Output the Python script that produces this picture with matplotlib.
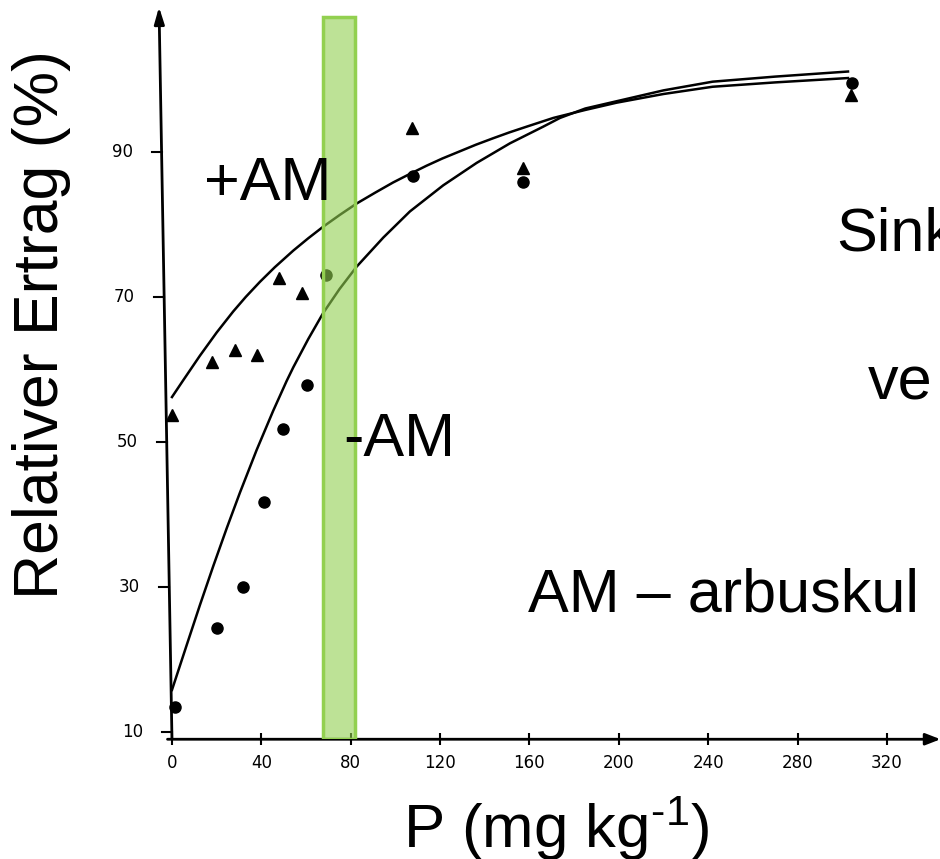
import matplotlib
matplotlib.use("Agg")
import matplotlib.pyplot as plt

plt.rcParams['font.family'] = ['Liberation Sans', 'DejaVu Sans']
plt.rcParams['mathtext.default'] = 'regular'

# ---- data ----
p_plus = [0, 18, 28, 38, 48, 58, 107.5, 157, 304]
y_plus = [53.7, 61.0, 62.7, 62.0, 72.6, 70.5, 93.3, 87.8, 97.9]

p_minus = [1.3, 20, 31.6, 41, 49.6, 60.4, 69, 108, 157, 304.5]
y_minus = [13.4, 24.3, 30.0, 41.7, 51.8, 57.9, 73.0, 86.7, 85.9, 99.5]

curve_plus_x = [0, 5, 12.5, 20, 27.4, 33, 39.4, 46, 54.3, 61, 67.7, 75, 82.7, 91, 99, 106,
                113.9, 121, 128.9, 136, 143.8, 151, 158.8, 170.7, 185, 199, 220, 242, 270, 302.6]
curve_plus_y = [56.2, 58.5, 61.9, 65.1, 68.0, 70.0, 72.1, 74.1, 76.4, 78.1, 79.7, 81.3, 82.9, 84.4, 85.8, 86.9,
                88.1, 89.1, 90.1, 91.0, 91.9, 92.7, 93.5, 94.7, 95.8, 96.8, 98.0, 99.0, 99.6, 100.2]

curve_minus_x = [0, 6.6, 12.5, 18.5, 24.5, 30.4, 37.9, 45.3, 51.3, 54.3, 61, 67.7, 75, 82.7, 94.6, 106.5,
                 121.4, 136.4, 151.3, 166.2, 173.7, 185, 199, 220, 242, 270, 302.6]
curve_minus_y = [15.8, 22.0, 27.5, 32.9, 38.1, 43.0, 48.9, 54.3, 58.4, 60.3, 64.2, 67.8, 71.1, 74.2, 78.2, 81.8,
                 85.4, 88.5, 91.2, 93.5, 94.7, 96.0, 97.0, 98.5, 99.7, 100.4, 101.1]

x_ticks = [0, 40, 80, 120, 160, 200, 240, 280, 320]
y_ticks = [10, 30, 50, 70, 90]

band_range = (67.6, 81.9)

W, H = 940, 859
fig = plt.figure(figsize=(W / 100, H / 100), dpi=100)
X0, X1 = -5, 344
Y0, Y1 = 9, 110
ax = fig.add_axes([160.8 / W, 119.75 / H, 779.7 / W, 732.25 / H])
ax.set_xlim(X0, X1)
ax.set_ylim(Y0, Y1)
for s in ax.spines.values():
    s.set_visible(False)
ax.set_yticks([])
ax.set_xticks(x_ticks)
ax.set_xticklabels([str(t) for t in x_ticks], family='DejaVu Sans', fontsize=12)
ax.tick_params(axis='x', direction='inout', length=9, width=1.5, pad=6)

# x axis with arrow
ax.annotate('', xy=(344, 9), xytext=(-2, 9),
            arrowprops=dict(arrowstyle='-|>,head_length=0.9,head_width=0.35', lw=2, color='black',
                            shrinkA=0, shrinkB=0),
            annotation_clip=False)
# y axis (slightly slanted in scan) with arrow
top_x = -5.8
ax.annotate('', xy=(top_x, 110), xytext=(0, 9),
            arrowprops=dict(arrowstyle='-|>,head_length=1.0,head_width=0.3', lw=2, color='black',
                            shrinkA=0, shrinkB=0),
            annotation_clip=False)
for v in y_ticks:
    xa = top_x * (v - 9) / (110 - 9)
    ax.plot([xa - 4.5, xa], [v, v], color='black', lw=1.5, clip_on=False)
    ax.text(xa - 13, v, str(v), ha='right', va='center', family='DejaVu Sans', fontsize=12, clip_on=False)

# curves and points
ax.plot(curve_plus_x, curve_plus_y, color='black', lw=1.8, clip_on=False, zorder=3,
        solid_joinstyle='round')
ax.plot(curve_minus_x, curve_minus_y, color='black', lw=1.8, clip_on=False, zorder=3,
        solid_joinstyle='round')
ax.plot(p_plus, y_plus, linestyle='none', marker='^', ms=8, color='black', clip_on=False, zorder=4)
ax.plot(p_minus, y_minus, linestyle='none', marker='o', ms=8, color='black', clip_on=False, zorder=4)

# labels as figure text
def ftext(x, y, s, **kw):
    fig.text(x / W, 1 - y / H, s, **kw)

ftext(204, 200, '+AM', fontsize=44, va='baseline', ha='left', zorder=5)
ftext(343, 456, '-AM', fontsize=44, va='baseline', ha='left', zorder=5)
ftext(836, 250, 'Sink', fontsize=44, va='baseline', ha='left')
ftext(868, 400, 've', fontsize=44, va='baseline', ha='left')
ftext(528, 612, 'AM – arbuskul', fontsize=44, va='baseline', ha='left')
ftext(42, 325, 'Relativer Ertrag (%)', fontsize=45, rotation=90, ha='center', va='center')
ftext(403, 848, 'P (mg kg$^{\u20101}$)', fontsize=44.5, ha='left', va='baseline')

# green band (drawn over text and curves)
ax.axvspan(band_range[0], band_range[1], ymin=0, ymax=(108.6 - Y0) / (Y1 - Y0),
           facecolor='#92d050', alpha=0.6, edgecolor='none', zorder=6)
ax.axvspan(band_range[0], band_range[1], ymin=0, ymax=(108.6 - Y0) / (Y1 - Y0),
           facecolor='none', edgecolor='#92d050', lw=2.5, zorder=7)

fig.savefig('out.png', dpi=100)
